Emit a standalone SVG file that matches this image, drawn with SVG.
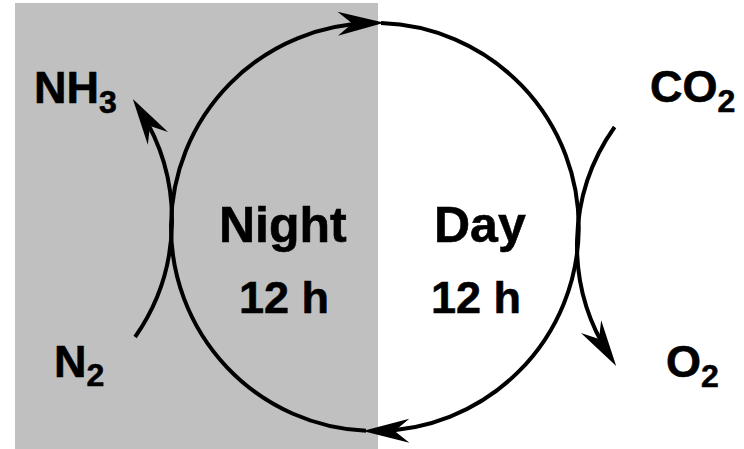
<svg xmlns="http://www.w3.org/2000/svg" width="744" height="449" viewBox="0 0 744 449">
<style>
.lbl{font-family:"Liberation Sans",Arial,sans-serif;font-weight:bold;fill:#000;stroke:#000;stroke-width:0.6}
.chem{font-size:45px}
.sub{font-size:32px}
.big{font-size:50px}
.hr{font-size:45px}
.arc{fill:none;stroke:#000;stroke-width:4;marker-end:url(#ah)}
</style>
<defs>
<marker id="ah" markerUnits="userSpaceOnUse" orient="auto" refX="0" refY="0" markerWidth="60" markerHeight="60" viewBox="-30 -15 45 30" overflow="visible">
<path d="M10,0 L-25,-9 L-14,0 L-25,9 Z" fill="#000"/>
</marker>
</defs>
<rect id="night-bg" x="15" y="3" width="363" height="446" fill="#c0c0c0"/>
<g id="connectors">
<path class="arc" d="M366,430.8 A204,204 0 0 1 371,23.04"/>
<path class="arc" d="M381,23.1 A204,204 0 0 1 376,431"/>
<path class="arc" d="M135.1,337 A204,204 0 0 0 140,110.3"/>
<path class="arc" d="M614.6,127 A204,204 0 0 0 609,354.7"/>
</g>
<g id="night"><text class="lbl big" x="219" y="242">Night</text><text class="lbl hr" x="239" y="313">12 h</text></g>
<g id="day"><text class="lbl big" x="434" y="242">Day</text><text class="lbl hr" x="431" y="313">12 h</text></g>
<g id="nh3"><text class="lbl chem" x="34" y="103">NH<tspan class="sub" dy="10">3</tspan></text></g>
<g id="n2"><text class="lbl chem" x="54" y="377">N<tspan class="sub" dy="9">2</tspan></text></g>
<g id="co2"><text class="lbl chem" x="650" y="102">CO<tspan class="sub" dy="10">2</tspan></text></g>
<g id="o2"><text class="lbl chem" x="666" y="377">O<tspan class="sub" dy="10">2</tspan></text></g>
</svg>
